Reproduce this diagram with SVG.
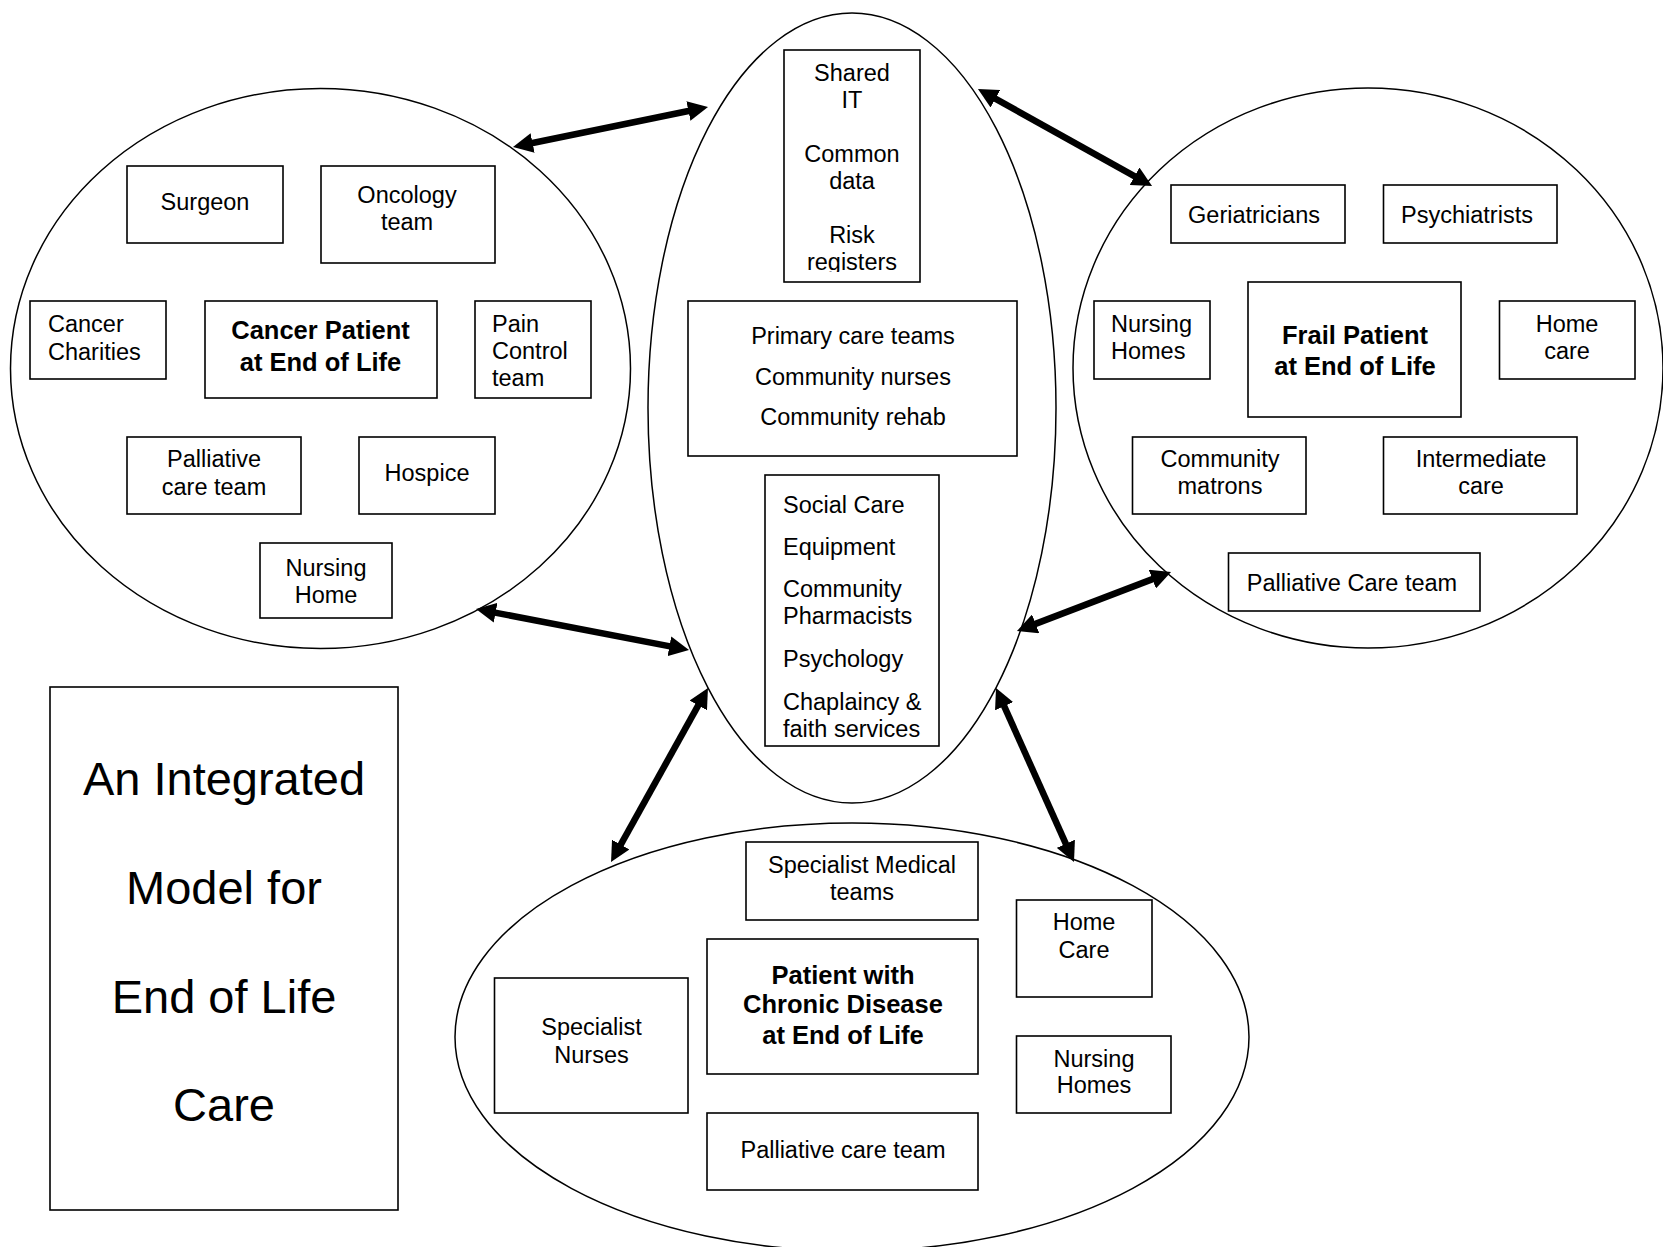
<svg xmlns="http://www.w3.org/2000/svg" width="1663" height="1247" viewBox="0 0 1663 1247">
<style>
  .bg{fill:#fff}
  .ell{fill:none;stroke:#000;stroke-width:1.5}
  .box{fill:#fff;stroke:#000;stroke-width:1.6}
  .t{font-family:"Liberation Sans",Arial,sans-serif;font-size:23.5px;fill:#000}
  .c{text-anchor:middle}
  .b{font-weight:bold;font-size:25.5px}
  .title{font-family:"Liberation Sans",Arial,sans-serif;font-size:47px;fill:#000;text-anchor:middle}
  .arr{stroke:#000;stroke-width:6.5;fill:none;marker-start:url(#ah);marker-end:url(#ah)}
</style>
<defs>
  <marker id="ah" viewBox="0 0 20 20" refX="10" refY="10" markerWidth="20" markerHeight="20" markerUnits="userSpaceOnUse" orient="auto-start-reverse">
    <path d="M0,0 L20,10 L0,20 Z" fill="#000"/>
  </marker>
  <clipPath id="clipIT"><rect x="784" y="50" width="136" height="222"/></clipPath>
</defs>
<rect class="bg" x="0" y="0" width="1663" height="1247"/>

<g id="ellipses">
  <ellipse id="cancer-circle" class="ell" cx="320.5" cy="368.5" rx="310" ry="280"/>
  <ellipse id="central-circle" class="ell" cx="852" cy="408" rx="204" ry="395"/>
  <ellipse id="frail-circle" class="ell" cx="1368" cy="368" rx="295" ry="280"/>
  <ellipse id="chronic-circle" class="ell" cx="852" cy="1037" rx="397" ry="214"/>
</g>

<g id="connectors">
  <line class="arr" x1="522.8" y1="145.0" x2="698.2" y2="109.0"/>
  <line class="arr" x1="986.7" y1="93.9" x2="1143.3" y2="181.1"/>
  <line class="arr" x1="485.8" y1="610.9" x2="679.2" y2="648.1"/>
  <line class="arr" x1="1026.3" y1="627.4" x2="1161.7" y2="575.6"/>
  <line class="arr" x1="703.1" y1="696.7" x2="615.9" y2="853.3"/>
  <line class="arr" x1="1000.1" y1="697.1" x2="1069.9" y2="852.9"/>
</g>

<!-- Cancer circle -->
<g id="surgeon"><rect class="box" x="127" y="166" width="156" height="77"/><text class="t c" x="205" y="210">Surgeon</text></g>
<g id="oncology"><rect class="box" x="321" y="166" width="174" height="97"/><text class="t c" x="407" y="203">Oncology</text><text class="t c" x="407" y="230">team</text></g>
<g id="cancer-charities"><rect class="box" x="30" y="301" width="136" height="78"/><text class="t" x="48" y="332">Cancer</text><text class="t" x="48" y="360">Charities</text></g>
<g id="cancer-patient"><rect class="box" x="205" y="301" width="232" height="97"/><text class="t c b" x="320.5" y="339">Cancer Patient</text><text class="t c b" x="320.5" y="371">at End of Life</text></g>
<g id="pain-control"><rect class="box" x="475" y="301" width="116" height="97"/><text class="t" x="492" y="332">Pain</text><text class="t" x="492" y="359">Control</text><text class="t" x="492" y="386">team</text></g>
<g id="palliative-left"><rect class="box" x="127" y="437" width="174" height="77"/><text class="t c" x="214" y="467">Palliative</text><text class="t c" x="214" y="495">care team</text></g>
<g id="hospice"><rect class="box" x="359" y="437" width="136" height="77"/><text class="t c" x="427" y="481">Hospice</text></g>
<g id="nursing-home"><rect class="box" x="260" y="543" width="132" height="75"/><text class="t c" x="326" y="576">Nursing</text><text class="t c" x="326" y="603">Home</text></g>

<!-- Central -->
<g id="shared-it"><rect class="box" x="784" y="50" width="136" height="232"/>
  <g clip-path="url(#clipIT)">
  <text class="t c" x="852" y="81">Shared</text><text class="t c" x="852" y="108">IT</text>
  <text class="t c" x="852" y="162">Common</text><text class="t c" x="852" y="189">data</text>
  <text class="t c" x="852" y="243">Risk</text><text class="t c" x="852" y="270">registers</text>
  </g>
</g>
<g id="primary-care"><rect class="box" x="688" y="301" width="329" height="155"/>
  <text class="t c" x="853" y="344">Primary care teams</text>
  <text class="t c" x="853" y="385">Community nurses</text>
  <text class="t c" x="853" y="425">Community rehab</text>
</g>
<g id="social-care"><rect class="box" x="765" y="475" width="174" height="271"/>
  <text class="t" x="783" y="513">Social Care</text>
  <text class="t" x="783" y="555">Equipment</text>
  <text class="t" x="783" y="597">Community</text>
  <text class="t" x="783" y="624">Pharmacists</text>
  <text class="t" x="783" y="667">Psychology</text>
  <text class="t" x="783" y="710">Chaplaincy &amp;</text>
  <text class="t" x="783" y="737">faith services</text>
</g>

<!-- Frail circle -->
<g id="geriatricians"><rect class="box" x="1171" y="185" width="174" height="58"/><text class="t c" x="1254" y="223">Geriatricians</text></g>
<g id="psychiatrists"><rect class="box" x="1383.5" y="185" width="173.5" height="58"/><text class="t c" x="1467" y="223">Psychiatrists</text></g>
<g id="nursing-homes-right"><rect class="box" x="1094" y="301" width="116" height="78"/><text class="t" x="1111" y="332">Nursing</text><text class="t" x="1111" y="359">Homes</text></g>
<g id="frail-patient"><rect class="box" x="1248" y="282" width="213" height="135"/><text class="t c b" x="1355" y="344">Frail Patient</text><text class="t c b" x="1355" y="375">at End of Life</text></g>
<g id="home-care-right"><rect class="box" x="1499.5" y="301" width="135.5" height="78"/><text class="t c" x="1567" y="332">Home</text><text class="t c" x="1567" y="359">care</text></g>
<g id="community-matrons"><rect class="box" x="1132.5" y="437" width="173.5" height="77"/><text class="t c" x="1220" y="467">Community</text><text class="t c" x="1220" y="494">matrons</text></g>
<g id="intermediate-care"><rect class="box" x="1383.5" y="437" width="193.5" height="77"/><text class="t c" x="1481" y="467">Intermediate</text><text class="t c" x="1481" y="494">care</text></g>
<g id="palliative-right"><rect class="box" x="1228.5" y="553" width="251.5" height="58"/><text class="t c" x="1352" y="591">Palliative Care team</text></g>

<!-- Chronic circle -->
<g id="specialist-medical"><rect class="box" x="746" y="842" width="232" height="78"/><text class="t c" x="862" y="873">Specialist Medical</text><text class="t c" x="862" y="900">teams</text></g>
<g id="home-care-bottom"><rect class="box" x="1016.5" y="900" width="135.5" height="97"/><text class="t c" x="1084" y="930">Home</text><text class="t c" x="1084" y="958">Care</text></g>
<g id="chronic-patient"><rect class="box" x="707" y="939" width="271" height="135"/><text class="t c b" x="843" y="984">Patient with</text><text class="t c b" x="843" y="1013">Chronic Disease</text><text class="t c b" x="843" y="1044">at End of Life</text></g>
<g id="specialist-nurses"><rect class="box" x="494.5" y="978" width="193.5" height="135"/><text class="t c" x="591.5" y="1035">Specialist</text><text class="t c" x="591.5" y="1063">Nurses</text></g>
<g id="nursing-homes-bottom"><rect class="box" x="1016.5" y="1036" width="154.5" height="77"/><text class="t c" x="1094" y="1067">Nursing</text><text class="t c" x="1094" y="1093">Homes</text></g>
<g id="palliative-bottom"><rect class="box" x="707" y="1113" width="271" height="77"/><text class="t c" x="843" y="1158">Palliative care team</text></g>

<!-- Title -->
<g id="title"><rect class="box" x="50" y="687" width="348" height="523"/>
  <text class="title" x="224" y="795">An Integrated</text>
  <text class="title" x="224" y="904">Model for</text>
  <text class="title" x="224" y="1013">End of Life</text>
  <text class="title" x="224" y="1121">Care</text>
</g>
</svg>
